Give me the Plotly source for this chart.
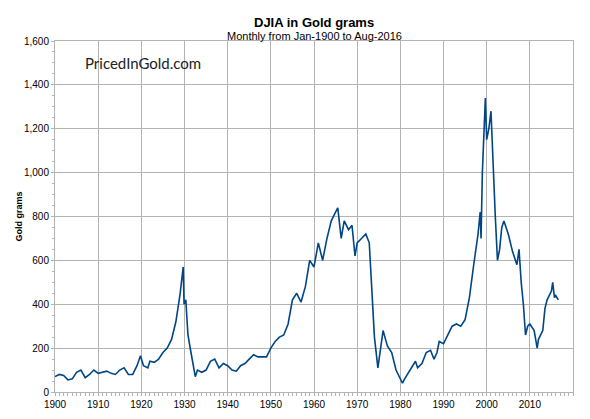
import plotly.graph_objects as go

years = [1900,1901,1902,1903,1904,1905,1906,1907,1908,1909,1910,1911,1912,1913,1914,1915,1916,1917,1918,1919,1919.8,1920.5,1921.5,1922,1923,1924,1925,1926,1927,1928,1929,1929.7,1929.9,1930.3,1930.8,1931.5,1932.5,1933,1934,1935,1936,1937,1938,1939,1940,1941,1942,1943,1944,1945,1946,1947,1948,1949,1950,1951,1952,1953,1954,1955,1956,1957,1958,1959,1960,1961,1962,1963,1964,1965.5,1966.3,1967,1968,1968.8,1969.5,1970,1971,1972,1972.8,1973.5,1974,1974.8,1975.5,1976,1977,1978,1979,1980,1980.5,1981,1982,1982.8,1983.5,1984,1985,1986,1987,1987.8,1988.5,1989,1990,1991,1992,1993,1994,1995,1996,1997,1998,1998.5,1998.7,1999,1999.5,1999.7,2000,2000.5,2001,2001.5,2002,2002.5,2003,2003.5,2004,2005,2006,2007,2007.5,2008,2008.5,2009,2009.5,2010,2011,2011.7,2012,2013,2013.5,2014,2015,2015.3,2015.7,2016,2016.6]
grams = [70,80,75,55,60,90,100,65,80,100,85,90,95,85,80,100,110,80,80,120,165,120,110,140,135,150,180,200,240,320,450,570,400,420,260,180,70,100,90,100,140,150,110,130,120,100,95,120,130,150,170,160,160,160,200,230,250,260,310,420,450,410,480,600,570,680,600,700,780,840,700,780,740,760,620,680,700,720,680,400,250,110,200,280,210,180,100,60,40,60,90,120,140,110,130,180,190,150,180,230,220,260,300,310,300,330,430,580,720,820,700,1000,1250,1340,1150,1200,1280,1000,800,600,650,750,780,720,640,580,650,500,400,260,300,310,280,200,240,280,380,420,460,500,430,440,420]
x_ticks = [1900,1910,1920,1930,1940,1950,1960,1970,1980,1990,2000,2010]

fig = go.Figure(go.Scatter(x=years, y=grams, mode="lines", line=dict(color="#004586", width=1.6), showlegend=False))
fig.update_layout(
    width=582, height=411, paper_bgcolor="#ffffff", plot_bgcolor="#ffffff",
    margin=dict(l=47, r=17, t=33, b=27, autoexpand=False),
    font=dict(family="Liberation Sans, Arial", size=10, color="#000"),
    annotations=[
        dict(text="<b>DJIA in Gold grams</b>", x=0.5, xref="paper", y=1, yref="paper", yshift=28, showarrow=False, font=dict(size=13)),
        dict(text="Monthly from Jan-1900 to Aug-2016", x=0.5, xref="paper", y=1, yref="paper", yshift=13, showarrow=False, font=dict(size=11)),
        dict(text="PricedInGold.com", x=1906.5, y=1500, xanchor="left", showarrow=False, font=dict(size=15, family="DejaVu Sans ExtraLight, Lato, sans-serif", color="#222")),
        dict(text="<b>Gold grams</b>", x=0, xref="paper", xshift=-44, y=0.5, yref="paper", textangle=-90, showarrow=False, font=dict(size=9)),
    ],
)
fig.update_xaxes(range=[1900, 2020], tickvals=x_ticks, showgrid=True, gridcolor="#b3b3b3", showline=True, linecolor="#b3b3b3",
                 ticks="outside", ticklen=3, tickcolor="#b3b3b3", minor=dict(dtick=1, ticks="outside", ticklen=3, tickcolor="#b3b3b3", showgrid=False), zeroline=False, mirror=True, automargin=False)
fig.update_yaxes(range=[0, 1600], dtick=200, showgrid=True, gridcolor="#b3b3b3", showline=True, linecolor="#b3b3b3", tickformat=",",
                 ticks="outside", ticklen=3, tickcolor="#b3b3b3", minor=dict(dtick=50, ticks="outside", ticklen=2, tickcolor="#b3b3b3", showgrid=False), zeroline=False, mirror=True, automargin=False)
fig.write_html("out.html")
